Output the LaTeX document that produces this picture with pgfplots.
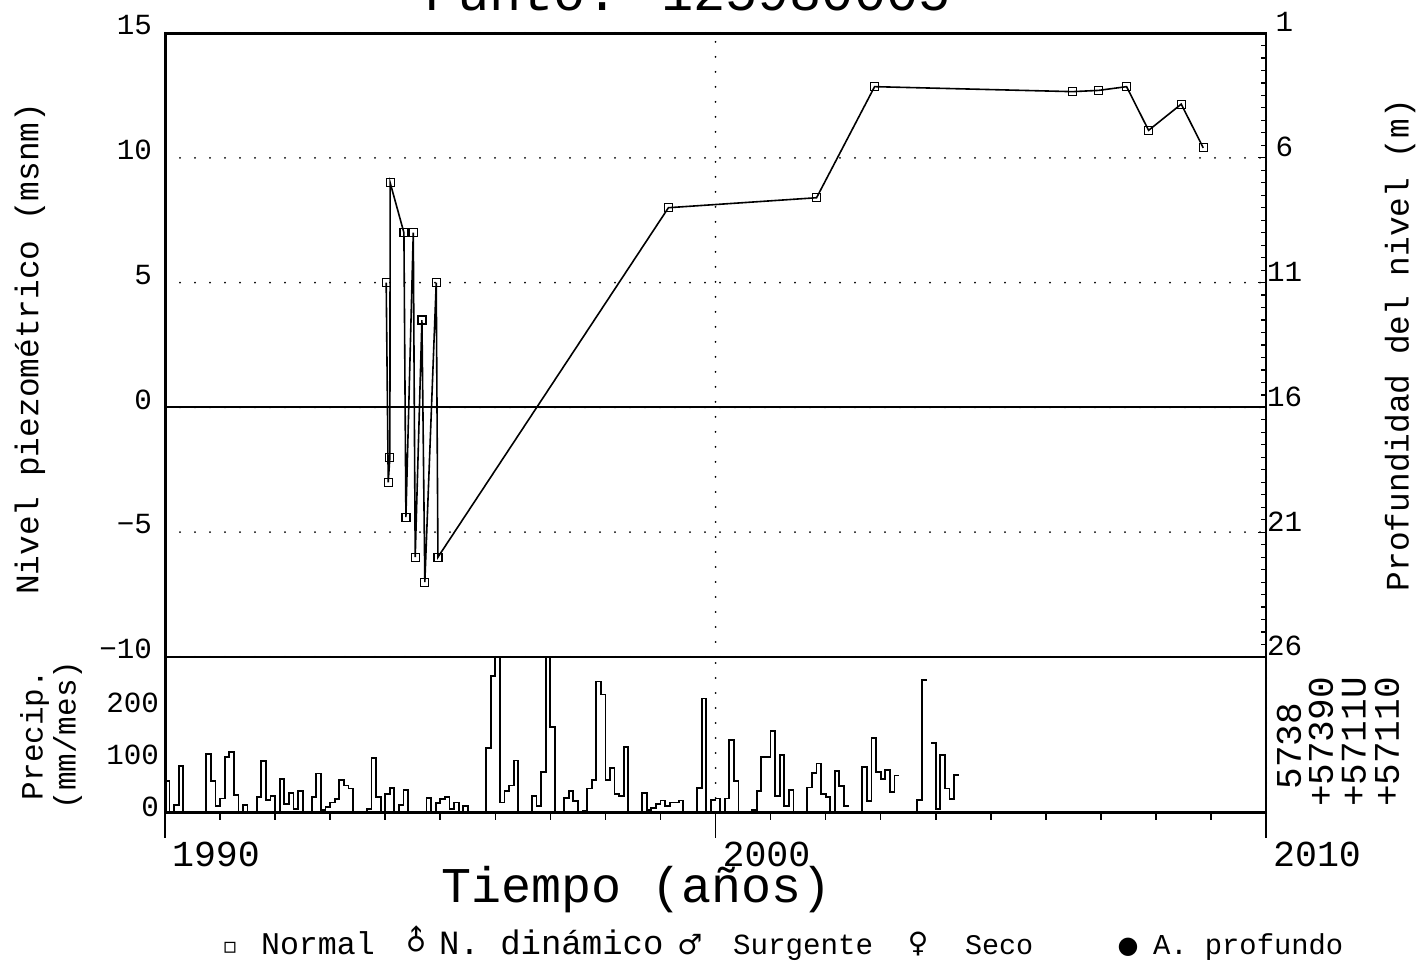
\documentclass[border=0pt]{standalone}
\usepackage{fontspec}
\setmainfont{Liberation Mono}
\newfontfamily\symfont{DejaVu Sans}
\usepackage{graphicx}
\usepackage{pgfplots}
\usepackage{pgfplotstable}
\pgfplotsset{compat=1.18}

\pgfplotstableread{
year level
1994.018 5.0
1994.055 -3.0
1994.085 -2.0
1994.090 9.0
1994.340 7.0
1994.376 -4.4
1994.510 7.0
1994.545 -6.0
1994.667 3.5
1994.720 -7.0
1994.927 5.0
1994.958 -6.0
1999.145 8.0
2001.836 8.4
2002.890 12.85
2006.485 12.65
2006.958 12.7
2007.467 12.85
2007.867 11.1
2008.460 12.15
2008.860 10.4
}\levels

\pgfplotstableread{
k v
0 62
1 0
2 15
3 90
4 0
5 0
6 0
7 0
8 0
9 113
10 61
11 13
12 28
13 108
14 117
15 35
16 0
17 16
18 0
19 0
20 30
21 100
22 25
23 32
24 0
25 66
26 17
27 38
28 8
29 43
30 0
31 0
32 30
33 76
34 6
35 11
36 20
37 27
38 63
39 53
40 47
41 3
42 0
43 0
44 8
45 106
46 30
47 0
48 37
49 48
50 0
51 15
52 44
53 0
54 0
55 0
56 0
57 29
58 0
59 19
60 27
61 31
62 7
63 20
64 0
65 13
66 0
67 0
68 0
69 0
70 125
71 264
72 350
73 20
74 42
75 53
76 101
77 0
78 0
79 0
80 33
81 13
82 79
83 350
84 166
85 0
86 0
87 29
88 42
89 23
90 0
91 4
92 47
93 64
94 253
95 228
96 64
97 86
98 37
99 32
100 127
101 0
102 0
103 0
104 38
105 6
106 10
107 18
108 24
109 14
110 20
111 20
112 24
113 0
114 0
115 0
116 48
117 220
118 0
119 25
120 28
121 0
122 28
123 140
124 62
125 0
126 0
127 0
128 5
129 42
130 107
131 107
132 158
133 32
134 112
135 13
136 44
137 0
138 0
139 0
140 49
141 77
142 95
143 36
144 31
145 0
146 81
147 52
148 13
149 13
}\precA

\pgfplotstableread{
k v
151 0
152 89
153 23
154 144
155 79
156 65
157 83
158 40
159 72
160 72
}\precB

\pgfplotstableread{
k v
163 0
164 25
165 256
166 256
}\precC

\pgfplotstableread{
k v
167 134
168 8
169 112
170 47
171 27
172 73
173 73
}\precD

\begin{document}
\begin{tikzpicture}
\useasboundingbox (0pt,0pt) rectangle (711pt,481pt);
\pgfplotsset{
  dotgrid/.style={black, line width=1pt, line cap=round, dash pattern=on 0pt off 7.5pt},
  tickfont/.style={font=\fontsize{14.6}{16}\selectfont},
}
% ---------- main panel ----------
\begin{axis}[
  at={(82.5pt,152.5pt)}, anchor=south west, scale only axis,
  width=550.5pt, height=312pt,
  xmin=1990, xmax=2010, ymin=-10, ymax=15,
  xtick={1990,2000,2010}, xticklabels={}, xtick style={draw=none},
  xmajorgrids, ymajorgrids,
  major grid style={dotgrid},
  ytick={-10,-5,0,5,10,15}, yticklabels={−10,−5,0,5,10,15},
  ytick pos=left, ytick style={draw=none},
  axis line style={line width=1pt},
  yticklabel style={tickfont, anchor=south east, xshift=-3pt, yshift=-4.5pt},
  ylabel={Nivel piezométrico (msnm)},
  ylabel style={at={(axis description cs:-0.1226,0.494)}, anchor=center, font=\fontsize{16.4}{18}\selectfont},
]
\addplot[black, line width=0.9pt, forget plot] coordinates {(1990,0) (2010,0)};
\addplot[black, line width=0.8pt, mark=square, mark size=2pt,
  mark options={solid, line width=0.6pt, fill=white}] table[x=year, y=level] {\levels};
\draw[line width=2pt] (rel axis cs:0,0) -- (rel axis cs:0,1);
\draw[line width=1.6pt] (rel axis cs:0,1) -- (rel axis cs:1,1);
\end{axis}
% ---------- right depth axis ----------
\begin{axis}[
  at={(82.5pt,152.5pt)}, anchor=south west, scale only axis,
  width=550.5pt, height=312pt,
  xmin=1990, xmax=2010, ymin=1, ymax=26, y dir=reverse,
  axis y line*=right, axis x line=none,
  ytick={1,6,11,16,21,26}, yticklabels={1,6,11,16,21,26}, minor y tick num=9,
  major tick length=4pt, minor tick length=2.5pt,
  tick style={black, line width=0.6pt},
  axis line style={line width=1pt},
  yticklabel style={tickfont, anchor=south west, text width=1.3em, align=right, xshift=-3pt, yshift=-3pt},
  ylabel={Profundidad del nivel (m)},
  ylabel style={at={(axis description cs:1.1217,0.5)}, anchor=center, font=\fontsize{16.4}{18}\selectfont},
]
\end{axis}
% ---------- precipitation panel ----------
\begin{axis}[
  at={(82.5pt,74.5pt)}, anchor=south west, scale only axis,
  width=550.5pt, height=78pt,
  xmin=1990, xmax=2010, ymin=0, ymax=300,
  xtick={1990,2000,2010}, xticklabels={1990,2000,2010},
  minor xtick={1991,1992,1993,1994,1995,1996,1997,1998,1999,2001,2002,2003,2004,2005,2006,2007,2008,2009},
  xtick pos=left, tick align=outside,
  major tick length=12.5pt, minor tick length=3.5pt,
  xtick style={black, line width=0.8pt},
  xmajorgrids, major grid style={dotgrid},
  ytick={0,100,200}, yticklabels={0,100,200}, ytick pos=left, ytick style={draw=none},
  axis line style={line width=1pt},
  yticklabel style={tickfont, anchor=south east, xshift=13pt, yshift=-5.5pt},
  xticklabel style={font=\fontsize{18.3}{20}\selectfont, anchor=north west, xshift=0pt, yshift=1.5pt},
  ylabel={Precip.\\(mm/mes)},
  ylabel style={at={(axis description cs:-0.1035,0.5)}, anchor=center, align=center, font=\fontsize{15.5}{16.5}\selectfont},
  xlabel={Tiempo (años)},
  xlabel style={at={(axis description cs:0.4287,-0.494)}, anchor=center, font=\fontsize{25}{28}\selectfont},
]
\addplot[const plot, black, line width=0.9pt] table[x expr=1990+\thisrow{k}/12, y=v] {\precA};
\addplot[const plot, black, line width=0.9pt] table[x expr=1990+\thisrow{k}/12, y=v] {\precB};
\addplot[const plot, black, line width=0.9pt] table[x expr=1990+\thisrow{k}/12, y=v] {\precC};
\addplot[const plot, black, line width=0.9pt] table[x expr=1990+\thisrow{k}/12, y=v] {\precD};
\draw[line width=2pt] (rel axis cs:0,0) -- (rel axis cs:0,1);
\draw[line width=1.6pt] (rel axis cs:0,0) -- (rel axis cs:1,0);
\end{axis}
% ---------- title (cut by page edge) ----------
\node[anchor=base, font=\fontsize{26.8}{30}\selectfont] at (344pt,475.5pt) {Punto. 125980005};
% ---------- station codes ----------
\begin{scope}[font=\fontsize{18}{20}\selectfont]
\node[rotate=90] at (644.5pt,108pt) {5738};
\node[rotate=90] at (660.5pt,110pt) {+57390};
\node[rotate=90] at (677pt,110pt) {+5711U};
\node[rotate=90] at (693.5pt,110pt) {+57110};
\end{scope}
% ---------- legend line ----------
\node[anchor=base] at (115pt,4pt) {\symfont\fontsize{11}{12}\selectfont ▫};
\node[anchor=base west, font=\fontsize{15.8}{17}\selectfont] at (127pt,3.5pt) {Normal};
\node[anchor=base] at (208pt,3pt) {\rotatebox{45}{\symfont\fontsize{14}{15}\selectfont ♂}};
\node[anchor=base west, font=\fontsize{17}{18}\selectfont] at (216pt,3.5pt) {N. dinámico};
\node[anchor=base] at (345pt,3.5pt) {\symfont\fontsize{14}{15}\selectfont ♂};
\node[anchor=base west, font=\fontsize{14.6}{16}\selectfont] at (363pt,3.5pt) {Surgente};
\node[anchor=base] at (459pt,4.5pt) {\symfont\fontsize{14}{15}\selectfont ♀};
\node[anchor=base west, font=\fontsize{14.2}{16}\selectfont] at (479pt,3.5pt) {Seco};
\node[anchor=base] at (564pt,4pt) {\symfont\fontsize{12}{13}\selectfont ●};
\node[anchor=base west, font=\fontsize{14.4}{16}\selectfont] at (573pt,3.5pt) {A. profundo};
\end{tikzpicture}
\end{document}
